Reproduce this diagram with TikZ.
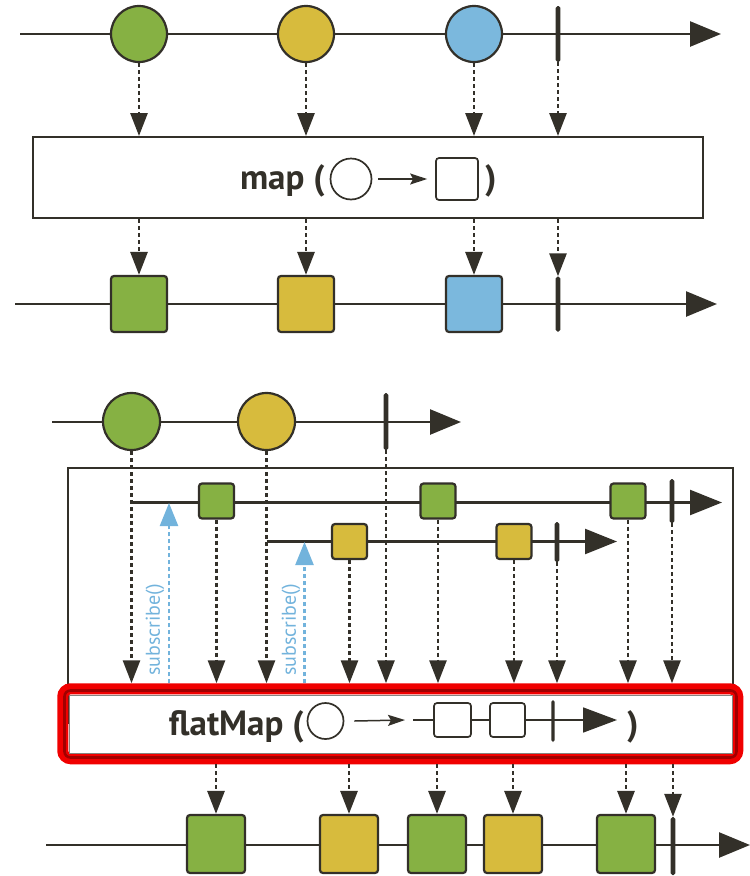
\documentclass[tikz,border=0pt]{standalone}
\usepackage{fontspec}
\newfontfamily\opfont{PT Sans}
\usetikzlibrary{arrows.meta,shapes.geometric}
\definecolor{ink}{HTML}{333029}
\definecolor{mgreen}{HTML}{86B143}
\definecolor{myellow}{HTML}{D7BB3D}
\definecolor{mblue}{HTML}{7BB8DD}
\definecolor{subblue}{HTML}{72B3DC}
\definecolor{fmred}{HTML}{F00000}
\definecolor{fmdark}{HTML}{A00000}
\begin{document}
\begin{tikzpicture}[x=1pt,y=-1pt,
  tline/.style={ink,line width=2.6pt,-{Triangle[length=31pt,width=25pt]}},
  sline/.style={ink,line width=2.4pt,-{Triangle[length=32pt,width=25pt]}},
  darr/.style={ink,line width=2.8pt,dash pattern=on 4pt off 3pt,-{Triangle[length=23pt,width=17pt]}},
  subarr/.style={subblue,line width=2.5pt,dash pattern=on 4pt off 3pt,-{Triangle[length=23pt,width=18pt]}},
  marble/.style={circle,draw=ink,line width=2.2pt,inner sep=0pt,minimum size=#1},
  item/.style={rectangle,draw=ink,line width=2.2pt,rounded corners=3pt,inner sep=0pt,minimum size=#1},
  endbar/.style={rectangle,fill=ink,draw=none,rounded corners=1.8pt,inner sep=0pt,minimum width=4.6pt,minimum height=#1},
  opbox/.style={rectangle,draw=ink,line width=2pt,fill=white,inner sep=0pt},
  optext/.style={font=\opfont\bfseries\fontsize{35}{36}\selectfont,text=ink,inner sep=0pt},
  sublbl/.style={font=\opfont\fontsize{20}{21}\selectfont,text=subblue,inner sep=0pt},
  glyph/.style={draw=ink,line width=1.7pt,fill=white,inner sep=0pt},
  garr/.style={ink,line width=1.5pt,-{Stealth[length=17pt,width=11pt,inset=3pt]}}
]
\useasboundingbox (0,0) rectangle (750,876);

% ---------- map ----------
\coordinate (a0) at (20,34);
\coordinate (a1) at (721,34);
\draw[tline] (a0) -- (a1);
\node[marble=56pt,fill=mgreen]  (c1) at (139,34) {};
\node[marble=56pt,fill=myellow] (c2) at (306,34) {};
\node[marble=56pt,fill=mblue]   (c3) at (474,34) {};
\node[endbar=56pt] (b1) at (558,34) {};

\node[opbox,minimum width=670pt,minimum height=81pt] (map) at (368,177.5) {};
\foreach \n in {c1,c2,c3,b1}
  \draw[darr] (\n.south) -- (\n.south |- map.north);

\node[optext,anchor=base east] (maptxt) at (325,189) {map (};
\node[glyph,circle,minimum size=41pt] (mapc) at (351,179) {};
\node[glyph,rectangle,rounded corners=3pt,minimum size=42pt] (maps) at (457,179) {};
\draw[garr] ([xshift=6pt]mapc.east) -- ([xshift=-8pt]maps.west);
\node[optext,anchor=base west] (mapend) at (485,189) {)};

\coordinate (r0) at (15,304);
\coordinate (r1) at (717,304);
\draw[tline] (r0) -- (r1);
\node[item=56pt,fill=mgreen]  (s1) at (139,304) {};
\node[item=56pt,fill=myellow] (s2) at (306,304) {};
\node[item=56pt,fill=mblue]   (s3) at (474,304) {};
\node[endbar=55pt] (b2) at (558,304) {};
\foreach \n/\m in {c1/s1,c2/s2,c3/s3}
  \draw[darr] (\n |- map.south) -- (\m.north);
\draw[darr] (b1 |- map.south) -- (b2.north);

% ---------- flatMap ----------
\coordinate (f0) at (52,422);
\coordinate (f1) at (461,422);
\draw[tline] (f0) -- (f1);
\node[marble=57pt,fill=mgreen]  (d1) at (131.5,421.5) {};
\node[marble=57pt,fill=myellow] (d2) at (266.5,421.5) {};
\node[endbar=57pt] (b3) at (386,421.5) {};

% frame around the inner streams
\draw[ink,line width=1.6pt] (68,724) |- (733,468) -- (733,724);

% first inner stream
\coordinate (i0) at (131.5,502.5);
\coordinate (i1) at (722,502.5);
\draw[sline] (i0) -- (i1);
\node[item=35pt,fill=mgreen] (g1) at (216.5,501) {};
\node[item=35pt,fill=mgreen] (g2) at (438,501) {};
\node[item=35pt,fill=mgreen] (g3) at (628,501) {};
\node[endbar=44pt] (b4) at (672,501) {};

% second inner stream
\coordinate (j0) at (266.5,541.5);
\coordinate (j1) at (617,541.5);
\draw[sline] (j0) -- (j1);
\node[item=35pt,fill=myellow] (y1) at (349.5,541.5) {};
\node[item=35pt,fill=myellow] (y2) at (514,541.5) {};
\node[endbar=40pt] (b5) at (557,542) {};

% flatMap operator box
\node[draw=fmred,line width=11pt,rounded corners=8pt,minimum width=675pt,minimum height=70pt,inner sep=0pt] (fm) at (400.25,723.75) {};
\draw[fmdark,line width=2.6pt,rounded corners=6pt] (64.5,690.5) rectangle (736.5,757.5);
\draw[fill=white,draw=ink!60,line width=0.8pt] (69,695) rectangle (732,753);

\foreach \n in {d1,g1,d2,y1,b3,g2,y2,b5,g3,b4}
  \draw[darr] (\n.south) -- (\n.south |- fm.north);

% subscriptions
\coordinate (u1) at (169,503);
\coordinate (u2) at (304.5,542);
\draw[subarr] (u1 |- fm.north) -- (u1);
\draw[subarr] (u2 |- fm.north) -- (u2);
\node[sublbl,rotate=90] (l1) at (155,630) {subscribe()};
\node[sublbl,rotate=90] (l2) at (291,630) {subscribe()};

% operator glyph
\node[optext,anchor=base east] (fmtxt) at (304,735) {flatMap (};
\node[glyph,circle,minimum size=36pt] (fmc) at (325.5,721) {};
\coordinate (k0) at (413,720);
\coordinate (k1) at (617,720);
\coordinate (k2) at (405,720);
\draw[ink,line width=1.7pt,-{Triangle[length=34pt,width=25pt]}] (k0) -- (k1);
\node[glyph,rectangle,rounded corners=3pt,minimum width=37pt,minimum height=34pt] (fs1) at (452.5,720) {};
\node[glyph,rectangle,rounded corners=3pt,minimum width=35pt,minimum height=34pt] (fs2) at (507.5,720) {};
\node[endbar=42pt,minimum width=3.2pt] (fb) at (553,721) {};
\draw[garr] ([xshift=10pt]fmc.east) -- (k2);
\node[optext,anchor=base west] (fmend) at (627,735) {)};

% merged output stream
\coordinate (o0) at (46,845);
\coordinate (o1) at (750,845);
\draw[tline] (o0) -- (o1);
\node[item=58pt,fill=mgreen]  (h1) at (216,844) {};
\node[item=58pt,fill=myellow] (h2) at (349,844) {};
\node[item=58pt,fill=mgreen]  (h3) at (437,844) {};
\node[item=58pt,fill=myellow] (h4) at (513,844) {};
\node[item=58pt,fill=mgreen]  (h5) at (626,844) {};
\node[endbar=58pt] (b6) at (673,846) {};
\foreach \m in {h1,h2,h3,h4,h5,b6}
  \draw[darr] (\m |- fm.south) -- (\m.north);
\end{tikzpicture}
\end{document}
